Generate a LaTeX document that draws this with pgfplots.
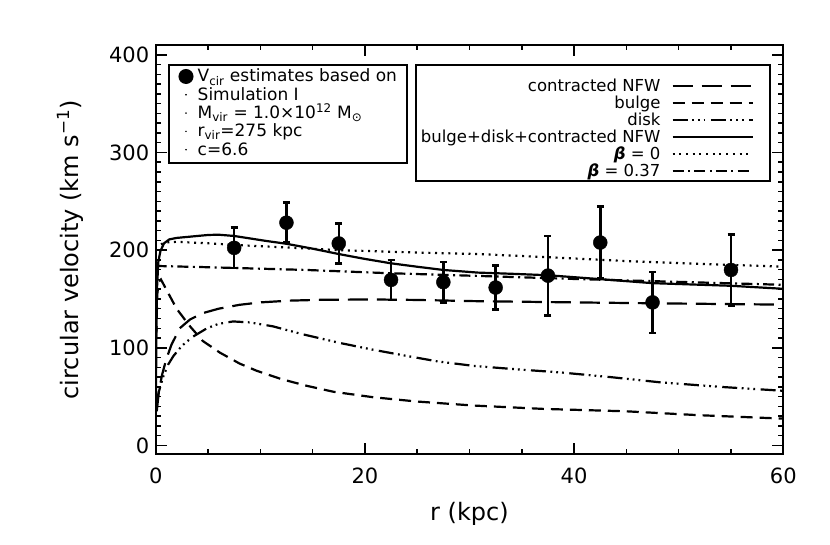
\documentclass[border=0pt]{standalone}
\usepackage{fontspec}
\setmainfont{DejaVu Sans}
\usepackage{pgfplots}
\usepackage{pgfplotstable}
\pgfplotsset{compat=1.18}

\pgfplotstableread{
r v e
7.5 202.3 20.8
12.5 228.1 20.5
17.5 206.8 20.6
22.5 169.5 20.3
27.5 167.2 20.8
32.5 161.7 22.5
37.5 173.9 40.6
42.5 207.8 37.0
47.5 146.5 31.3
55.0 179.7 36.5
}\vcirdata

% legend row: height above baseline, depth, text
\newcommand{\lrow}[3]{\rule[-#2]{0pt}{\dimexpr#1+#2\relax}\smash{#3}}

\begin{document}
\begin{tikzpicture}
\path[use as bounding box] (0,0) rectangle (830pt,545pt);
\pgfplotsset{
  commonax/.style={
    at={(155.7pt,90.7pt)}, anchor=south west,
    scale only axis, width=627.6pt, height=409.3pt,
    xmin=0, xmax=60, ymin=-9, ymax=410,
  }
}
\begin{axis}[
  commonax,
  xtick={0,20,40,60}, minor x tick num=3,
  ytick={0,100,200,300,400}, minor y tick num=9,
  tick align=inside,
  major tick length=11pt, minor tick length=5.5pt,
  axis line style={line width=2pt},
  every tick/.style={line width=1.5pt, black},
  /pgf/number format/assume math mode=true,
  ticklabel style={font=\fontsize{21}{21}\selectfont},
  xticklabel style={yshift=-10pt},
  yticklabel style={xshift=-3pt},
  xlabel={r (kpc)},
  ylabel={circular velocity (km s\textsuperscript{−1})},
  every axis x label/.style={at={([yshift=-59.5pt]axis description cs:0.5,0)}, anchor=center, font=\fontsize{24}{24}\selectfont},
  every axis y label/.style={at={([xshift=-85.7pt]axis description cs:0,0.5)}, rotate=90, anchor=center, font=\fontsize{24}{24}\selectfont},
  legend plot pos=right,
  legend image code/.code={\draw[#1] (0pt,5.5pt) -- (80pt,5.5pt); \path[draw=none] (0pt,5.5pt) -- (92.8pt,5.5pt);},
  legend style={at={(rel axis cs:0.9804,0.9536)}, anchor=north east, draw=black, line width=2pt, fill=white,
    font=\fontsize{16.5}{18}\selectfont, inner xsep=4.6pt, inner ysep=4pt, row sep=0pt, column sep=11pt,
    nodes={inner sep=0pt, text depth=, text height=}, cells={anchor=base east}},
]
\addplot[black, line width=2.2pt, dash pattern=on 20pt off 9pt] coordinates {
(0.1,35) (0.3,55) (0.6,72) (1,88) (1.5,103) (2.3,120) (3.28,129) (4.5,135.5) (6,140) (8,144) (10,146.5) (12.8,148.3) (16,149.2) (20.8,149.5) (25,149) (30.4,147.8) (40,146.5) (50,145.3) (60,144.2)
};
\addlegendentry{\lrow{22.5pt}{3.5pt}{contracted NFW}}
\addplot[black, line width=2.2pt, dash pattern=on 12pt off 7pt] coordinates {
(0.05,110) (0.15,155) (0.3,168) (0.5,170) (1,160) (2,140) (3.28,122) (4.5,107) (6.15,95) (8,84) (9.65,76.5) (12,68) (14.4,61.2) (17,55) (20.8,49.4) (25,45) (30.4,40.9) (37,37.5) (45,35) (52,31) (60,27.5)
};
\addlegendentry{\lrow{13.5pt}{3.5pt}{bulge}}
\addplot[black, line width=2.2pt, dash pattern=on 15pt off 4.5pt on 1.8pt off 4pt on 1.8pt off 4pt on 1.8pt off 5.5pt] coordinates {
(0.1,45) (0.3,55) (0.7,70) (1.2,83) (1.7,91.7) (2.5,102) (3.5,111) (4.9,120) (6,124.5) (7.4,127) (9,126) (11.2,122) (14,114) (17.6,105) (20.8,98) (24,91.7) (27,86) (30.4,81.5) (34.5,78) (38.7,74.8) (43.5,70) (48.2,64.7) (54,60) (60,56)
};
\addlegendentry{\lrow{13.5pt}{3.5pt}{disk}}
\addplot[black, line width=2.2pt] coordinates {
(0.02,40) (0.06,110) (0.12,160) (0.25,188) (0.45,199) (0.8,207) (1.3,211) (2,212.5) (3,213.5) (4,214.5) (5,215.5) (6,215.8) (7.5,214.5) (9,212) (10.5,209.5) (12.5,206.5) (15,201.5) (17.5,196) (20,191) (22.5,186.5) (25,183) (27.5,179.7) (30.8,177) (34,175.8) (37.5,174.3) (42.5,170.3) (47.5,166.2) (55,163.5) (60,160.4)
};
\addlegendentry{\lrow{13.5pt}{3.5pt}{bulge+disk+contracted NFW}}
\addplot[black, line width=2.2pt, dash pattern=on 2pt off 4.7pt] coordinates {
(0.5,206) (1,208) (2,208.5) (5,207) (8.1,205) (12,203) (17.5,200) (25,197.5) (30.8,196) (38,192.5) (45,188.8) (52,186) (60,183)
};
\addlegendentry{\lrow{13.5pt}{3.5pt}{{\bfseries\itshape β} = 0}}
\addplot[black, line width=2.2pt, dash pattern=on 11pt off 4.5pt on 2pt off 4.2pt] coordinates {
(0,183.8) (5,182.5) (14.4,179.7) (22,176.5) (30.8,173.6) (40,170.5) (50,167.5) (60,164.5)
};
\addlegendentry{\lrow{13.5pt}{1pt}{{\bfseries\itshape β} = 0.37}}
\end{axis}

\begin{axis}[
  commonax, hide axis,
  legend image code/.code={\path[draw=none] (0pt,5.5pt) -- (14pt,5.5pt); \draw[#1] plot coordinates {(7pt,5.5pt)};},
  legend style={at={(rel axis cs:0.0196,0.9536)}, anchor=north west, draw=black, line width=2pt, fill=white,
    font=\fontsize{17}{18}\selectfont, inner xsep=10pt, inner ysep=3.3pt, row sep=0pt, column sep=4.7pt,
    nodes={inner sep=0pt, text depth=, text height=}, cells={anchor=base west}},
]
\addplot[black, only marks, mark=*, mark size=7pt, forget plot,
  error bars/.cd, y dir=both, y explicit,
  error bar style={line width=2.5pt, black},
  error mark options={rotate=90, mark size=3.5pt, line width=2.5pt, black}]
  table[x=r, y=v, y error=e] {\vcirdata};
\addlegendimage{only marks, mark=*, mark size=6.5pt, black}
\addlegendentry{\lrow{13.7pt}{4.6pt}{V\textsubscript{cir} estimates based on}}
\addlegendimage{only marks, mark=*, mark size=0.6pt, line width=0.3pt, black}
\addlegendentry{\lrow{13.7pt}{4.6pt}{Simulation I}}
\addlegendimage{only marks, mark=*, mark size=0.6pt, line width=0.3pt, black}
\addlegendentry{\lrow{13.7pt}{4.6pt}{M\textsubscript{vir} = 1.0×10\textsuperscript{12} M\textsubscript{⊙}}}
\addlegendimage{only marks, mark=*, mark size=0.6pt, line width=0.3pt, black}
\addlegendentry{\lrow{13.7pt}{4.6pt}{r\textsubscript{vir}=275 kpc}}
\addlegendimage{only marks, mark=*, mark size=0.6pt, line width=0.3pt, black}
\addlegendentry{\lrow{13.7pt}{4.6pt}{c=6.6}}
\end{axis}
\end{tikzpicture}
\end{document}
